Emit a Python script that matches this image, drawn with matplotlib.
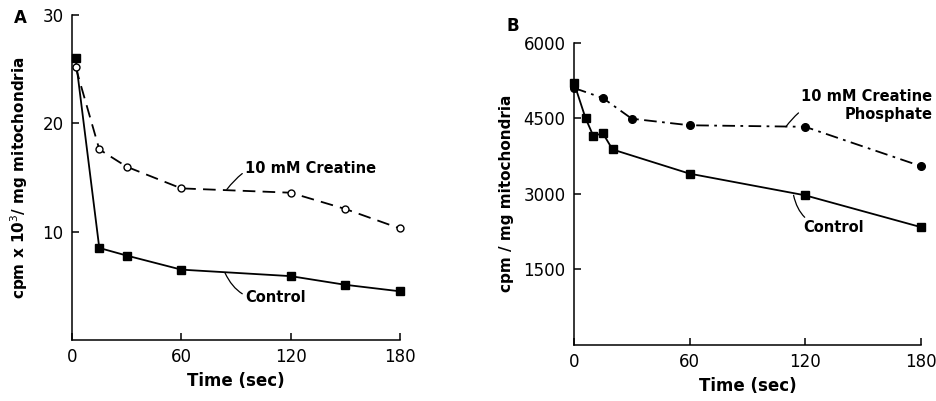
import matplotlib
matplotlib.use('Agg')
import matplotlib.pyplot as plt

# Panel A: creatine
time_a_control = [2, 15, 30, 60, 120, 150, 180]
control_a = [26.0, 8.5, 7.8, 6.5, 5.9, 5.1, 4.5]
time_a_creatine = [2, 15, 30, 60, 120, 150, 180]
creatine_a = [25.2, 17.6, 16.0, 14.0, 13.6, 12.1, 10.3]

# Panel B: creatine phosphate
time_b_control = [0, 6, 10, 15, 20, 60, 120, 180]
control_b = [5200, 4500, 4150, 4200, 3880, 3400, 2970, 2340]
time_b_cp = [0, 15, 30, 60, 120, 180]
cp_b = [5100, 4900, 4490, 4360, 4330, 3550]

x_ticks = [0, 60, 120, 180]
y_ticks_a = [10, 20, 30]
y_ticks_b = [1500, 3000, 4500, 6000]

plt.rcParams['font.family'] = ['DejaVu Sans']
plt.rcParams['font.size'] = 12

fig = plt.figure(figsize=(9.37, 4.01), dpi=100)
ax_a = fig.add_axes([0.0768, 0.152, 0.350, 0.8105])
ax_b = fig.add_axes([0.6126, 0.1397, 0.370, 0.754])

lw = 1.3
for ax in (ax_a, ax_b):
    ax.spines['top'].set_visible(False)
    ax.spines['right'].set_visible(False)
    ax.spines['left'].set_linewidth(1.1)
    ax.spines['bottom'].set_linewidth(1.1)
    ax.tick_params(direction='in', length=5, width=1.1, labelsize=12, pad=6)
    ax.set_xlim(0, 180)
    ax.set_xticks(x_ticks)
    ax.set_xlabel('Time (sec)', fontsize=12, fontweight='bold', labelpad=4)

# --- A ---
ax_a.plot(time_a_control, control_a, color='black', lw=lw, marker='s',
          markersize=6, clip_on=False)
ax_a.plot(time_a_creatine, creatine_a, color='black', lw=lw, ls=(0, (7, 4)),
          marker='o', markersize=5, markerfacecolor='white', clip_on=False)
ax_a.set_ylim(0, 30)
ax_a.set_yticks(y_ticks_a)
ax_a.set_ylabel('cpm x 10$^3$/ mg mitochondria', fontsize=11,
                fontweight='bold', labelpad=9)
ax_a.annotate('10 mM Creatine', xy=(85, 13.9), xytext=(95, 15.8),
              fontsize=10.5, fontweight='bold', ha='left', va='center',
              arrowprops=dict(arrowstyle='-', lw=0.9, color='black',
                              connectionstyle='arc3,rad=0.4',
                              shrinkA=0, shrinkB=0))
ax_a.annotate('Control', xy=(84, 6.2), xytext=(95, 3.9),
              fontsize=10.5, fontweight='bold', ha='left', va='center',
              arrowprops=dict(arrowstyle='-', lw=0.9, color='black',
                              connectionstyle='arc3,rad=-0.4',
                              shrinkA=0, shrinkB=0))
fig.text(0.015, 0.955, 'A', fontsize=12, fontweight='bold', va='center')

# --- B ---
ax_b.plot(time_b_control, control_b, color='black', lw=lw, marker='s',
          markersize=6, clip_on=False)
ax_b.plot(time_b_cp, cp_b, color='black', lw=lw, ls=(0, (7, 3, 1.5, 3)),
          marker='o', markersize=5.5, clip_on=False)
ax_b.set_ylim(0, 6000)
ax_b.set_yticks(y_ticks_b)
ax_b.set_ylabel('cpm / mg mitochondria', fontsize=11,
                fontweight='bold', labelpad=7)
ax_b.annotate('10 mM Creatine\nPhosphate', xy=(110, 4330),
              xytext=(118, 4750), fontsize=10.5, fontweight='bold',
              ha='left', va='center', multialignment='right', linespacing=1.3,
              arrowprops=dict(arrowstyle='-', lw=0.9, color='black',
                              connectionstyle='arc3,rad=0.4',
                              shrinkA=0, shrinkB=0))
ax_b.annotate('Control', xy=(114, 2970), xytext=(119, 2330),
              fontsize=10.5, fontweight='bold', ha='left', va='center',
              arrowprops=dict(arrowstyle='-', lw=0.9, color='black',
                              connectionstyle='arc3,rad=-0.4',
                              shrinkA=0, shrinkB=0))
fig.text(0.541, 0.935, 'B', fontsize=12, fontweight='bold', va='center')

fig.savefig('out.png', dpi=100)
